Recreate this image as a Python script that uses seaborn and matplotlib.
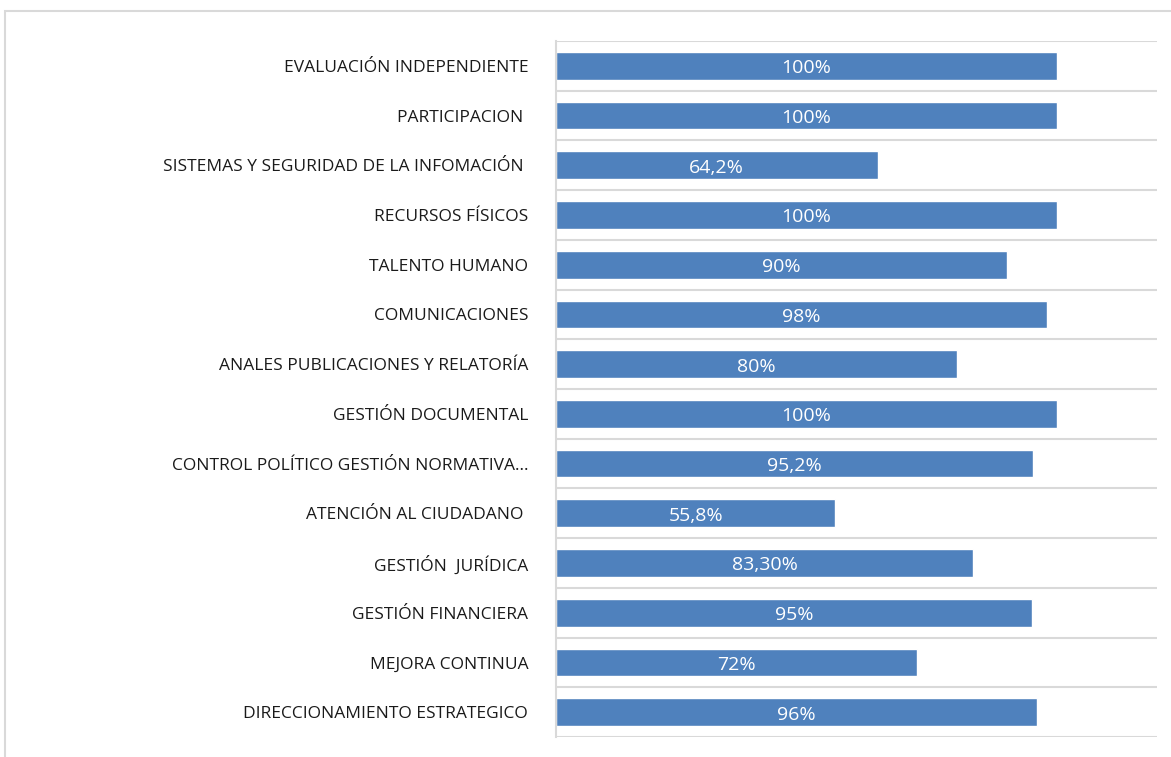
import numpy as np
import pandas as pd
import matplotlib
matplotlib.use('Agg')
import matplotlib.pyplot as plt
import seaborn as sns
from matplotlib.patches import Rectangle

# Datos (de arriba hacia abajo)
procesos = [
    'EVALUACIÓN INDEPENDIENTE',
    'PARTICIPACION ',
    'SISTEMAS Y SEGURIDAD DE LA INFOMACIÓN ',
    'RECURSOS FÍSICOS',
    'TALENTO HUMANO',
    'COMUNICACIONES',
    'ANALES PUBLICACIONES Y RELATORÍA',
    'GESTIÓN DOCUMENTAL',
    'CONTROL POLÍTICO GESTIÓN NORMATIVA…',
    'ATENCIÓN AL CIUDADANO ',
    'GESTIÓN  JURÍDICA',
    'GESTIÓN FINANCIERA',
    'MEJORA CONTINUA',
    'DIRECCIONAMIENTO ESTRATEGICO',
]
avance = [1.0, 1.0, 0.642, 1.0, 0.90, 0.98, 0.80, 1.0, 0.952, 0.558, 0.833, 0.95, 0.72, 0.96]
etiquetas = ['100%', '100%', '64,2%', '100%', '90%', '98%', '80%', '100%',
             '95,2%', '55,8%', '83,30%', '95%', '72%', '96%']

df = pd.DataFrame({'proceso': procesos, 'avance': avance})

sns.set_style('white')
plt.rcParams['font.family'] = ['Open Sans', 'DejaVu Sans']

fig = plt.figure(figsize=(11.71, 7.57), dpi=100)
ax = fig.add_axes([556 / 1171, 1 - 737 / 757, 601 / 1171, 696 / 757])

sns.barplot(data=df, y='proceso', x='avance', orient='h', color='#4f81bd',
            saturation=1, width=0.56, ax=ax)

for i, (v, lab) in enumerate(zip(avance, etiquetas)):
    ax.text(v / 2, i + 0.05, lab, ha='center', va='center', color='white', fontsize=14)

ax.set_xlim(0, 1.2)
ax.set_ylim(len(procesos) - 0.5, -0.5)
ax.set_xlabel('')
ax.set_ylabel('')
ax.set_xticks([])
ax.set_yticks(np.arange(-0.5, len(procesos), 1), minor=True)
ax.grid(True, which='minor', axis='y', color='#d9d9d9', linewidth=1.5)
ax.tick_params(axis='y', which='both', length=0, pad=20, labelsize=12.5, labelcolor='#1a1a1a')
for s in ['top', 'right', 'bottom']:
    ax.spines[s].set_visible(False)
ax.spines['left'].set_color('#d9d9d9')
ax.spines['left'].set_linewidth(1.5)
ax.set_axisbelow(True)

# Marco del gráfico
fig.patches.append(Rectangle((5 / 1171, -0.1), 1.2, 1 - 11 / 757 + 0.1,
                             transform=fig.transFigure, fill=False,
                             edgecolor='#d9d9d9', linewidth=1.5, zorder=0))

fig.savefig('out.png', dpi=100)
